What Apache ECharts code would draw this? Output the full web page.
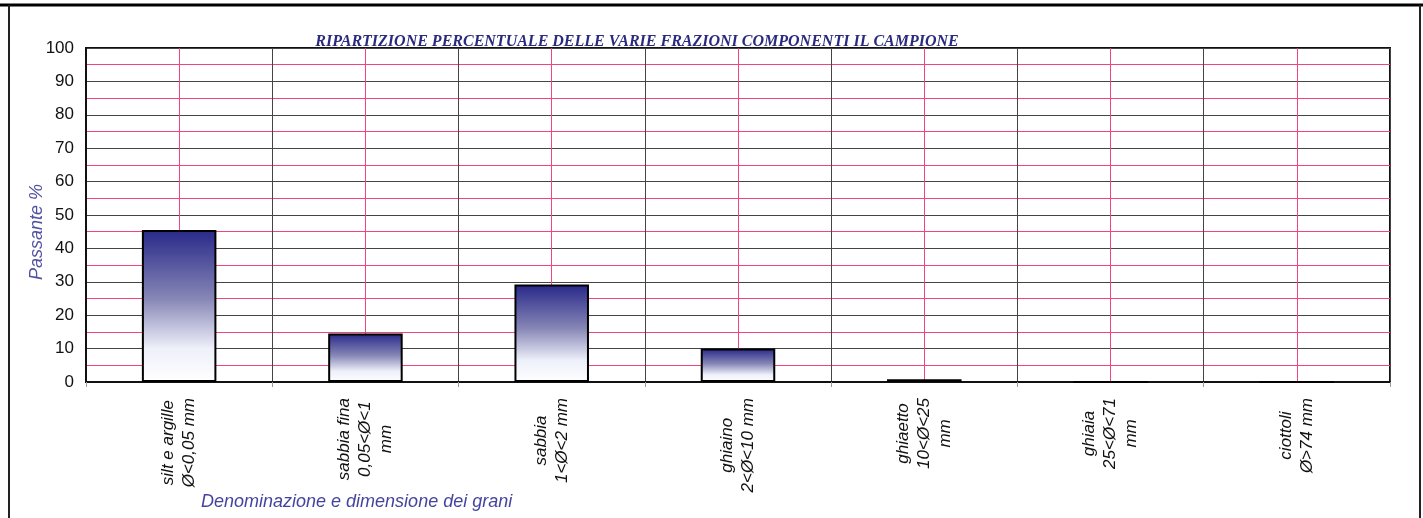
<!DOCTYPE html>
<html>
<head>
<meta charset="utf-8">
<script src="https://cdn.jsdelivr.net/npm/echarts@6/dist/echarts.min.js"></script>
<style>
html,body{margin:0;padding:0;background:#fff;}
#chart{width:1423px;height:518px;}
</style>
</head>
<body>
<div id="chart"></div>
<script>
const categories = [
  "silt e argille\nØ<0,05 mm",
  "sabbia fina\n0,05<Ø<1\nmm",
  "sabbia\n1<Ø<2 mm",
  "ghiaino\n2<Ø<10 mm",
  "ghiaetto\n10<Ø<25\nmm",
  "ghiaia\n25<Ø<71\nmm",
  "ciottoli\nØ>74 mm"
];
const values = [45.5, 14.5, 29.2, 10.0, 0.8, 0, 0];
const yTicks = [0, 10, 20, 30, 40, 50, 60, 70, 80, 90, 100];
const titleText = "RIPARTIZIONE PERCENTUALE DELLE VARIE FRAZIONI COMPONENTI IL CAMPIONE";
const yName = "Passante %";
const xName = "Denominazione e dimensione dei grani";

const chart = echarts.init(document.getElementById('chart'), null, {renderer: 'canvas'});
const option = {
  animation: false,
  backgroundColor: '#fff',
  title: {
    text: titleText,
    left: 632, top: 29, textAlign: 'center',
    textStyle: {fontFamily: 'Liberation Serif', fontStyle: 'italic', fontWeight: 'bold', fontSize: 16, color: '#2a2a7e'}
  },
  grid: {left: 86, right: 33, top: 48, bottom: 136, show: true, borderColor: '#111', borderWidth: 2, backgroundColor: 'transparent'},
  xAxis: [
    {
      type: 'category', data: categories,
      axisLine: {show: true, lineStyle: {color: '#111', width: 2}},
      axisTick: {show: true, length: 5, lineStyle: {color: '#999'}},
      splitLine: {show: false},
      axisLabel: {
        rotate: 90, margin: 16, interval: 0,
        formatter: function (v) { return v.split('\n').map(function (s) { return '{c|' + s + '}'; }).join('\n'); },
        rich: {c: {align: 'center', fontFamily: 'Liberation Sans', fontStyle: 'italic', fontSize: 17, lineHeight: 21, color: '#111'}}
      }
    },
    {
      type: 'value', min: 0, max: 14, interval: 2, show: true, position: 'top',
      axisLine: {show: false}, axisTick: {show: false}, axisLabel: {show: false},
      splitLine: {show: true, lineStyle: {color: '#444', width: 1}},
      minorTick: {show: false, splitNumber: 2},
      minorSplitLine: {show: true, lineStyle: {color: '#f2447e', width: 1}}
    }
  ],
  yAxis: {
    type: 'value', min: 0, max: 100, interval: 10,
    name: yName, nameLocation: 'middle', nameGap: 40, nameMoveOverlap: false,
    nameTextStyle: {fontFamily: 'Liberation Sans', fontStyle: 'italic', fontSize: 18, color: '#5252a2', padding: [0, 34, 0, 0]},
    axisLine: {show: true, lineStyle: {color: '#111', width: 2}},
    axisTick: {show: false},
    axisLabel: {
      margin: 12, fontFamily: 'Liberation Sans', fontSize: 17, color: '#111',
      formatter: function (v) { return yTicks.indexOf(v) >= 0 ? String(v) : ''; }
    },
    splitLine: {show: true, lineStyle: {color: '#444', width: 1}},
    minorTick: {show: false, splitNumber: 2},
    minorSplitLine: {show: true, lineStyle: {color: '#f2447e', width: 1}}
  },
  series: [{
    type: 'bar', data: values, barWidth: '40%', xAxisIndex: 0,
    itemStyle: {
      borderColor: '#000', borderWidth: 2,
      color: new echarts.graphic.LinearGradient(0, 0, 0, 1, [
        {offset: 0, color: '#28288a'},
        {offset: 0.45, color: '#8686b6'},
        {offset: 0.78, color: '#eef0fa'},
        {offset: 1, color: '#ffffff'}
      ])
    }
  }],
  graphic: [
    {type: 'line', shape: {x1: 0, y1: 5, x2: 1423, y2: 5}, style: {stroke: '#000', lineWidth: 3}},
    {type: 'line', shape: {x1: 9, y1: 5, x2: 9, y2: 518}, style: {stroke: '#222', lineWidth: 2}},
    {type: 'line', shape: {x1: 1420, y1: 5, x2: 1420, y2: 518}, style: {stroke: '#222', lineWidth: 2}},
    {type: 'text', left: 201, top: 493, style: {text: xName, fontFamily: 'Liberation Sans', fontStyle: 'italic', fontSize: 18, fill: '#4444a0'}}
  ]
};
chart.setOption(option);
</script>
</body>
</html>
